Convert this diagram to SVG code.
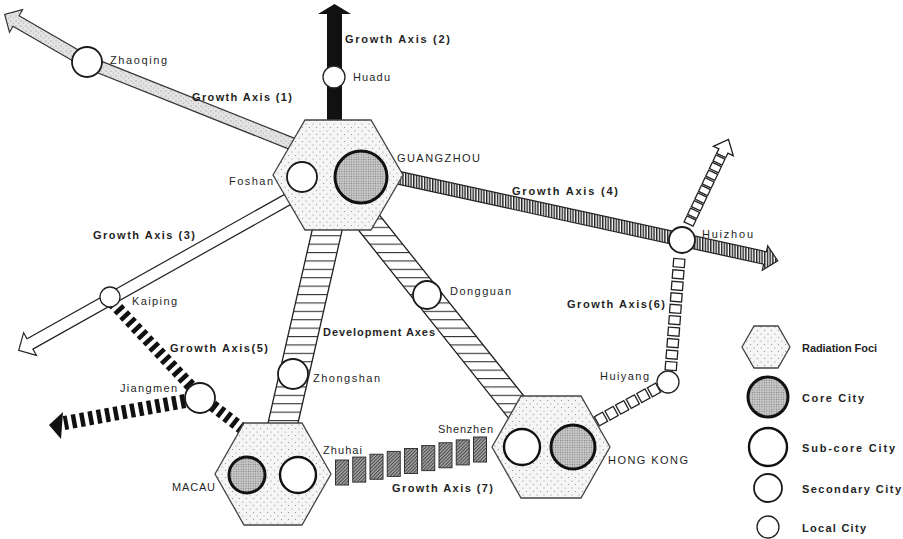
<svg xmlns="http://www.w3.org/2000/svg" width="903" height="539" viewBox="0 0 903 539">
<defs>
<pattern id="dots" width="7" height="7" patternUnits="userSpaceOnUse"><rect width="7" height="7" fill="#f5f5f5"/><circle cx="1.5" cy="1.5" r="0.6" fill="#8a8a8a"/><circle cx="5" cy="5" r="0.6" fill="#8a8a8a"/></pattern>
<pattern id="core" width="2.4" height="2.4" patternUnits="userSpaceOnUse"><rect width="2.4" height="2.4" fill="#c6c6c6"/><circle cx="1.2" cy="1.2" r="0.6" fill="#7a7a7a"/></pattern>
<pattern id="speckle" width="5" height="5" patternUnits="userSpaceOnUse"><rect width="5" height="5" fill="#e3e3e3"/><circle cx="1" cy="1" r="0.7" fill="#a8a8a8"/><circle cx="3.5" cy="3.2" r="0.6" fill="#b5b5b5"/></pattern>
<pattern id="vstripe" width="2.7" height="10" patternUnits="userSpaceOnUse"><rect width="2.7" height="10" fill="#fff"/><rect width="1.4" height="10" fill="#1e1e1e"/></pattern>
<pattern id="hstripe" width="10" height="8.4" patternUnits="userSpaceOnUse"><rect width="10" height="8.4" fill="#fff"/><rect width="10" height="1.1" fill="#333"/></pattern>
<pattern id="hatch" width="2.4" height="2.4" patternUnits="userSpaceOnUse" patternTransform="rotate(45)"><rect width="2.4" height="2.4" fill="#a8a8a8"/><rect width="1" height="2.4" fill="#444"/></pattern>
</defs>
<style>
.hex{fill:url(#dots);stroke:#444;stroke-width:1.3}
.core{fill:url(#core);stroke:#111;stroke-width:3}
.sub{fill:#fff;stroke:#111;stroke-width:2.4}
.sec{fill:#fff;stroke:#1a1a1a;stroke-width:1.8}
.loc{fill:#fff;stroke:#222;stroke-width:1.3}
.lbl{font-family:"Liberation Sans",Arial,sans-serif;font-size:11px;fill:#1f1f1f}
.ax{font-weight:bold}
.sq{fill:#fff;stroke:#222;stroke-width:1.3}
.blk{fill:url(#hatch);stroke:#333;stroke-width:1}
.dev{fill:url(#hstripe);stroke:#222;stroke-width:1.3}
.out{fill:none;stroke:#333;stroke-linejoin:miter}
</style>
<rect width="903" height="539" fill="#fff"/>

<g id="connectors">
  <g id="axis1">
    <polygon points="22.5,9.7 4.7,14.5 9.5,32.3" fill="url(#speckle)" stroke="#333" stroke-width="1.2"/>
    <path d="M300,147 L87,62 L16,21" class="out" stroke-width="13.4"/>
    <path d="M300,147 L87,62 L14.7,20.2" fill="none" stroke="url(#speckle)" stroke-width="11"/>
  </g>
  <polygon id="axis2" points="327,125 327,14 318,14 334.5,4 351,14 342,14 342,125" fill="#111"/>
  <g id="axis3">
    <polygon points="36.4,355.3 18.7,350.4 23.6,332.7" fill="#fff" stroke="#222" stroke-width="1.2"/>
    <path d="M292,197 L30,344" fill="none" stroke="#222" stroke-width="13"/>
    <path d="M292,197 L28.7,344.7" fill="none" stroke="#fff" stroke-width="10.6"/>
  </g>
  <g id="axis4">
    <polygon points="762.3,270.2 777.7,260.8 767.7,245.8" fill="url(#vstripe)" stroke="#222" stroke-width="1.2"/>
    <path d="M398,177.6 L765,258" fill="none" stroke="#222" stroke-width="14"/>
    <path d="M398,177.6 L766.5,258.3" fill="none" stroke="url(#vstripe)" stroke-width="11.6"/>
  </g>
  <g id="axis5">
    <path d="M112,302 L200,396 L244,430" fill="none" stroke="#111" stroke-width="12" stroke-dasharray="4.5 4"/>
    <path d="M185,401 L64,423" fill="none" stroke="#111" stroke-width="14" stroke-dasharray="4.5 4"/>
    <polygon points="63,412 49,425 61,439" fill="#111"/>
  </g>
  <g id="devaxes">
    <polygon class="dev" points="314,222 344,222 296.4,430 266.4,430"/>
    <polygon class="dev" points="350.4,220 377,212 559,440 534,450"/>
  </g>
  <g id="axis6">
    <g transform="translate(601,419) rotate(-28.7)"><rect class="sq" x="-4.7" y="-5.2" width="9.4" height="10.4"/></g>
    <g transform="translate(611.6,413.2) rotate(-28.7)"><rect class="sq" x="-4.7" y="-5.2" width="9.4" height="10.4"/></g>
    <g transform="translate(622.2,407.4) rotate(-28.7)"><rect class="sq" x="-4.7" y="-5.2" width="9.4" height="10.4"/></g>
    <g transform="translate(632.8,401.6) rotate(-28.7)"><rect class="sq" x="-4.7" y="-5.2" width="9.4" height="10.4"/></g>
    <g transform="translate(643.4,395.8) rotate(-28.7)"><rect class="sq" x="-4.7" y="-5.2" width="9.4" height="10.4"/></g>
    <g transform="translate(654,390) rotate(-28.7)"><rect class="sq" x="-4.7" y="-5.2" width="9.4" height="10.4"/></g>

    <g transform="translate(671,366) rotate(-85.6)"><rect class="sq" x="-4.2" y="-5.6" width="8.4" height="11.2"/></g>
    <g transform="translate(671.9,354.6) rotate(-85.6)"><rect class="sq" x="-4.2" y="-5.6" width="8.4" height="11.2"/></g>
    <g transform="translate(672.8,343.1) rotate(-85.6)"><rect class="sq" x="-4.2" y="-5.6" width="8.4" height="11.2"/></g>
    <g transform="translate(673.7,331.7) rotate(-85.6)"><rect class="sq" x="-4.2" y="-5.6" width="8.4" height="11.2"/></g>
    <g transform="translate(674.6,320.2) rotate(-85.6)"><rect class="sq" x="-4.2" y="-5.6" width="8.4" height="11.2"/></g>
    <g transform="translate(675.4,308.8) rotate(-85.6)"><rect class="sq" x="-4.2" y="-5.6" width="8.4" height="11.2"/></g>
    <g transform="translate(676.3,297.4) rotate(-85.6)"><rect class="sq" x="-4.2" y="-5.6" width="8.4" height="11.2"/></g>
    <g transform="translate(677.2,285.9) rotate(-85.6)"><rect class="sq" x="-4.2" y="-5.6" width="8.4" height="11.2"/></g>
    <g transform="translate(678.1,274.4) rotate(-85.6)"><rect class="sq" x="-4.2" y="-5.6" width="8.4" height="11.2"/></g>
    <g transform="translate(679,263) rotate(-85.6)"><rect class="sq" x="-4.2" y="-5.6" width="8.4" height="11.2"/></g>

    <g transform="translate(690,221) rotate(-64.6)"><rect class="sq" x="-3.4" y="-5" width="6.8" height="10"/></g>
    <g transform="translate(693.6,213.4) rotate(-64.6)"><rect class="sq" x="-3.4" y="-5" width="6.8" height="10"/></g>
    <g transform="translate(697.3,205.75) rotate(-64.6)"><rect class="sq" x="-3.4" y="-5" width="6.8" height="10"/></g>
    <g transform="translate(700.9,198.1) rotate(-64.6)"><rect class="sq" x="-3.4" y="-5" width="6.8" height="10"/></g>
    <g transform="translate(704.5,190.5) rotate(-64.6)"><rect class="sq" x="-3.4" y="-5" width="6.8" height="10"/></g>
    <g transform="translate(708.1,182.9) rotate(-64.6)"><rect class="sq" x="-3.4" y="-5" width="6.8" height="10"/></g>
    <g transform="translate(711.75,175.25) rotate(-64.6)"><rect class="sq" x="-3.4" y="-5" width="6.8" height="10"/></g>
    <g transform="translate(715.4,167.6) rotate(-64.6)"><rect class="sq" x="-3.4" y="-5" width="6.8" height="10"/></g>
    <g transform="translate(719,160) rotate(-64.6)"><rect class="sq" x="-3.4" y="-5" width="6.8" height="10"/></g>
    <polygon points="716.6,153.4 718.9,148.9 713.4,146.3 728.5,139.5 733.3,155.7 727.9,153.1 725.8,157.6" fill="#fff" stroke="#222" stroke-width="1.3"/>
  </g>
  <g id="axis7">
    <rect class="blk" x="335.5" y="460" width="13" height="25"/>
    <rect class="blk" x="352.75" y="457.1" width="13" height="25"/>
    <rect class="blk" x="370" y="454.25" width="13" height="25"/>
    <rect class="blk" x="387.25" y="451.4" width="13" height="25"/>
    <rect class="blk" x="404.5" y="448.5" width="13" height="25"/>
    <rect class="blk" x="421.75" y="445.6" width="13" height="25"/>
    <rect class="blk" x="439" y="442.75" width="13" height="25"/>
    <rect class="blk" x="456.25" y="439.9" width="13" height="25"/>
    <rect class="blk" x="473.5" y="437" width="13" height="25"/>
  </g>
  <g id="axis-labels" class="lbl ax">
    <text x="192" y="101" textLength="100" lengthAdjust="spacing">Growth Axis (1)</text>
    <text x="345" y="43" textLength="105" lengthAdjust="spacing">Growth Axis (2)</text>
    <text x="93" y="239" textLength="102" lengthAdjust="spacing">Growth Axis (3)</text>
    <text x="512" y="195" textLength="106" lengthAdjust="spacing">Growth Axis (4)</text>
    <text x="170" y="352" textLength="98" lengthAdjust="spacing">Growth Axis(5)</text>
    <text x="567" y="308" textLength="98" lengthAdjust="spacing">Growth Axis(6)</text>
    <text x="392" y="492" textLength="101" lengthAdjust="spacing">Growth Axis (7)</text>
    <text x="323" y="336" textLength="112" lengthAdjust="spacing">Development Axes</text>
  </g>
</g>

<g id="guangzhou">
  <polygon class="hex" points="273,175 305,120 371,120 403,175 371,230 305,230"/>
  <circle class="core" cx="361" cy="177" r="26"/>
  <text class="lbl" x="397" y="162" textLength="83" lengthAdjust="spacing">GUANGZHOU</text>
</g>
<g id="foshan">
  <circle class="sec" cx="302" cy="177" r="15"/>
  <text class="lbl" x="229" y="185" textLength="44" lengthAdjust="spacing">Foshan</text>
</g>
<g id="macau">
  <polygon class="hex" points="215,474 244,423 302,423 331,474 302,525 244,525"/>
  <circle class="core" cx="247" cy="475" r="18"/>
  <text class="lbl" x="172" y="491" textLength="43" lengthAdjust="spacing">MACAU</text>
</g>
<g id="zhuhai">
  <circle class="sub" cx="298" cy="475" r="18"/>
  <text class="lbl" x="323" y="454" textLength="39" lengthAdjust="spacing">Zhuhai</text>
</g>
<g id="hongkong">
  <polygon class="hex" points="492,447 521,396 581,396 610,447 581,498 521,498"/>
  <circle class="core" cx="573" cy="447" r="22"/>
  <text class="lbl" x="608" y="464" textLength="80" lengthAdjust="spacing">HONG KONG</text>
</g>
<g id="shenzhen">
  <circle class="sub" cx="522" cy="447" r="18"/>
  <text class="lbl" x="438" y="433" textLength="55" lengthAdjust="spacing">Shenzhen</text>
</g>
<g id="zhaoqing">
  <circle class="sec" cx="87" cy="62" r="15"/>
  <text class="lbl" x="110" y="64" textLength="57" lengthAdjust="spacing">Zhaoqing</text>
</g>
<g id="huadu">
  <circle class="loc" cx="334" cy="77" r="11"/>
  <text class="lbl" x="353" y="81" textLength="37" lengthAdjust="spacing">Huadu</text>
</g>
<g id="huizhou">
  <circle class="sec" cx="682" cy="240" r="13"/>
  <text class="lbl" x="702" y="238" textLength="51" lengthAdjust="spacing">Huizhou</text>
</g>
<g id="dongguan">
  <circle class="sec" cx="427" cy="295" r="14"/>
  <text class="lbl" x="450" y="295" textLength="61" lengthAdjust="spacing">Dongguan</text>
</g>
<g id="zhongshan">
  <circle class="sec" cx="293" cy="374" r="15"/>
  <text class="lbl" x="313" y="382" textLength="67" lengthAdjust="spacing">Zhongshan</text>
</g>
<g id="jiangmen">
  <circle class="sec" cx="200" cy="398" r="15"/>
  <text class="lbl" x="120" y="392" textLength="57" lengthAdjust="spacing">Jiangmen</text>
</g>
<g id="kaiping">
  <circle class="loc" cx="110" cy="297" r="10"/>
  <text class="lbl" x="132" y="305" textLength="45" lengthAdjust="spacing">Kaiping</text>
</g>
<g id="huiyang">
  <circle class="loc" cx="668" cy="382" r="11"/>
  <text class="lbl" x="600" y="380" textLength="49" lengthAdjust="spacing">Huiyang</text>
</g>

<g id="legend">
  <polygon class="hex" points="742,347 754,326 778,326 790,347 778,368 754,368"/>
  <circle class="core" cx="768" cy="397" r="20" stroke-width="3.5"/>
  <circle class="sub" cx="768" cy="447" r="19"/>
  <circle class="sec" cx="768" cy="488" r="14"/>
  <circle class="loc" cx="768" cy="527" r="11"/>
  <g class="lbl ax">
    <text x="802" y="352" textLength="75" lengthAdjust="spacing">Radiation Foci</text>
    <text x="802" y="402" textLength="62" lengthAdjust="spacing">Core City</text>
    <text x="802" y="452" textLength="93" lengthAdjust="spacing">Sub-core City</text>
    <text x="802" y="493" textLength="99" lengthAdjust="spacing">Secondary City</text>
    <text x="802" y="532" textLength="64" lengthAdjust="spacing">Local City</text>
  </g>
</g>
</svg>
